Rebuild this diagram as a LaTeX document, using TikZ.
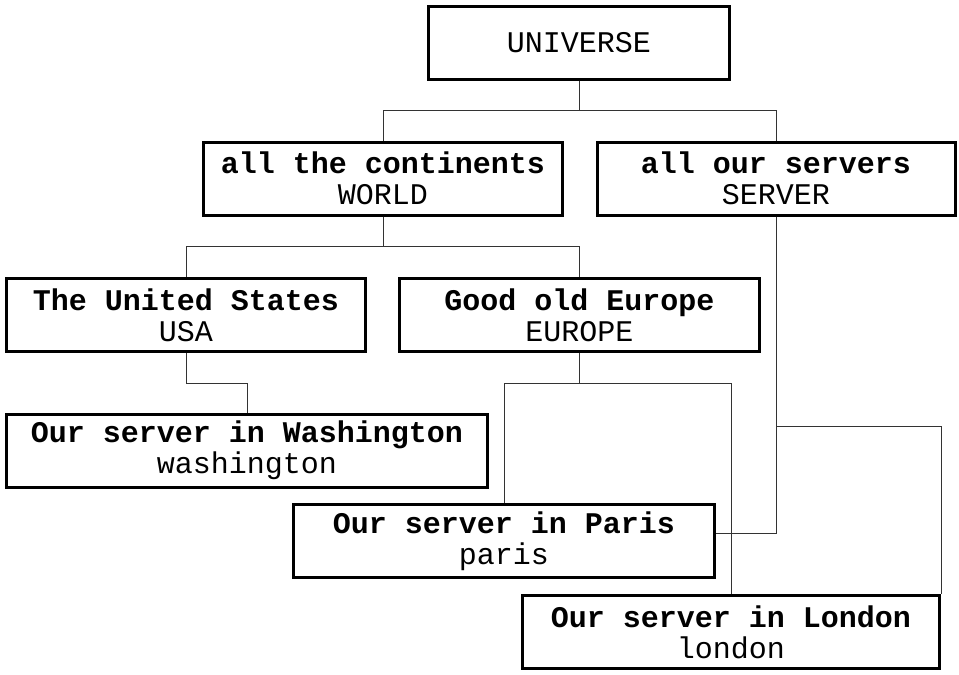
\documentclass[tikz,border=0pt]{standalone}
\usepackage{fontspec}
\setmainfont{Liberation Mono}
\begin{document}
\begin{tikzpicture}[x=1pt,y=-1pt,
  box/.style={draw=black, line width=3pt, fill=white, align=center, inner sep=0pt,
    minimum height=73pt, font=\fontsize{30}{31}\selectfont},
  conn/.style={draw=black!80, line width=1pt}]
\useasboundingbox (0,0) rectangle (959,675);

\node[box, minimum width=301pt] (universe) at (579,42.5) {UNIVERSE};
\node[box, minimum width=359pt] (world) at (383,178.5) {\textbf{all the continents}\\WORLD};
\node[box, minimum width=358pt] (server) at (776,178.5) {\textbf{all our servers}\\SERVER};
\node[box, minimum width=359pt] (usa) at (186,315) {\textbf{The United States}\\USA};
\node[box, minimum width=360pt] (europe) at (579.5,315) {\textbf{Good old Europe}\\EUROPE};
\node[box, minimum width=481pt] (wash) at (247,450.5) {\textbf{Our server in Washington}\\washington};
\node[box, minimum width=421pt] (paris) at (504,541) {\textbf{Our server in Paris}\\paris};
\node[box, minimum width=417pt] (london) at (731,632) {\textbf{Our server in London}\\london};

\draw[conn] (universe.south) -- ++(0,30) -| (world.north);
\draw[conn] (universe.south) -- ++(0,30) -| (server.north);
\draw[conn] (world.south) -- ++(0,30) -| (usa.north);
\draw[conn] (world.south) -- ++(0,30) -| (europe.north);
\draw[conn] (usa.south) -- ++(0,30) -| (wash.north);
\draw[conn] (europe.south) -- ++(0,30) -| (paris.north);
\draw[conn] (europe.south) -- ++(0,30) -| (london.north);
\coordinate (pe) at ([yshift=8pt]paris.east);
\draw[conn] (server.south) |- (pe);
\draw[conn] (server.south) -- ++(0,210) -| (london.north east);
\end{tikzpicture}
\end{document}
